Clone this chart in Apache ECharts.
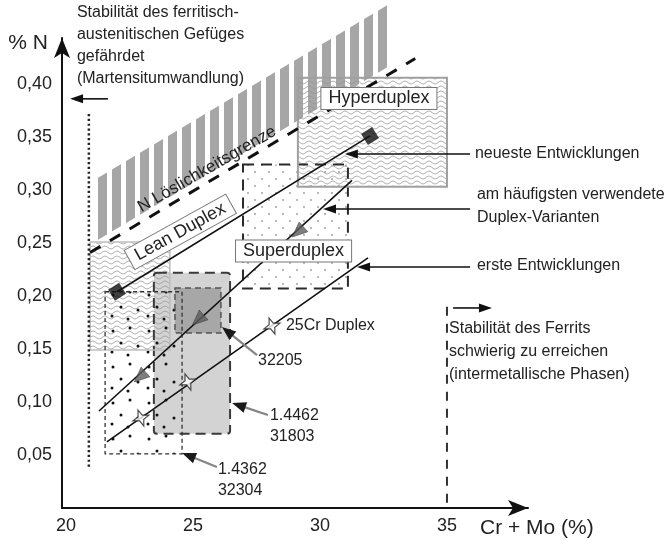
<!DOCTYPE html>
<html><head><meta charset="utf-8">
<script src="https://cdn.jsdelivr.net/npm/echarts@6/dist/echarts.min.js"></script>
<style>html,body{margin:0;padding:0;background:#fff}#c{width:672px;height:541px}</style>
</head><body><div id="c"></div>
<script>
// ---------- data (axis units: x = Cr + Mo %, y = % N) ----------
const xTicks = [20, 25, 30, 35];
const yTicks = [0.05, 0.10, 0.15, 0.20, 0.25, 0.30, 0.35, 0.40];

// N solubility limit (dashed line) start / end
const solubilityLine = [[20.95, 0.241], [33.75, 0.424]];
const hatchBandX = [21.1, 32.68];          // x-extent of hatched band
const hatchBandOffset = [0.0075, 0.066];    // band above the solubility line

// regions [xMin, xMax, yMin, yMax]
const region31803 = [23.46, 26.46, 0.070, 0.222];
const region32205 = [24.29, 26.10, 0.165, 0.2075];
const regionSuper = [26.97, 31.10, 0.207, 0.324];
const regionLean  = [20.95, 24.09, 0.149, 0.251];
const regionHyper = [29.13, 35.00, 0.303, 0.406];
const region32304 = [21.54, 24.57, 0.051, 0.204];

// development lines
const newestLine = [[22.01, 0.204], [31.97, 0.351]];
const commonLine = [[21.30, 0.0915], [31.26, 0.309]];
const firstLine  = [[21.61, 0.0623], [31.89, 0.236]];
const commonMarkers = [[22.91, 0.1236], [25.20, 0.1774], [29.13, 0.2604]];
const firstMarkers  = [[22.95, 0.0849], [24.80, 0.1189], [28.11, 0.1717]];

// stability limits
const martensiteLimit = [[20.9, 0.039], [20.9, 0.374]];
const ferriteLimit    = [[35.0, 0.005], [35.0, 0.193]];

// arrows [xFrom, yFrom, xTip, yTip]
const blackArrows = [
  [21.65, 0.386, 20.16, 0.386],
  [35.91, 0.334, 30.98, 0.334],
  [35.91, 0.2821, 30.12, 0.2821],
  [35.91, 0.2274, 31.46, 0.2274],
  [35.24, 0.1887, 36.77, 0.1887]
];
const grayArrows = [
  [27.52, 0.1443, 26.14, 0.1708],
  [27.95, 0.0877, 26.54, 0.0991],
  [25.94, 0.0387, 24.57, 0.0519]
];

// annotation texts and anchors
const noteTexts = [
  'Stabilität des ferritisch-\naustenitischen Gefüges\ngefährdet\n(Martensitumwandlung)',
  'neueste Entwicklungen',
  'am häufigsten verwendete\nDuplex-Varianten',
  'erste Entwicklungen',
  'Stabilität des Ferrits\nschwierig zu erreichen\n(intermetallische Phasen)',
  '25Cr Duplex',
  '32205',
  '1.4462\n31803',
  '1.4362\n32304'
];
const noteAnchors = [[20.43, 0.4772], [36.1, 0.334], [36.18, 0.3061], [36.18, 0.2283],
  [35.08, 0.1797], [28.66, 0.1717], [27.56, 0.1387], [28.03, 0.0967], [25.98, 0.0458]];
const noteVAlign = ['top', 'middle', 'top', 'middle', 'top', 'middle', 'middle', 'top', 'top'];
const noteLineHeight = [21.7, 20, 23, 20, 23, 20, 20, 21, 21];

const boxLabels = ['Hyperduplex', 'Superduplex', 'Lean Duplex', 'N Löslichkeitsgrenze'];
const boxAnchors = [[32.32, 0.3863], [28.96, 0.2425], [24.5, 0.2605], [25.55, 0.3195]];
const boxRotation = [0, 0, 29, 30];

// ---------- rendering ----------
const FONT = '"Liberation Sans", Arial, Helvetica, sans-serif';

function makePattern(w, h, draw) {
  const c = document.createElement('canvas');
  c.width = w; c.height = h;
  draw(c.getContext('2d'));
  return { image: c, repeat: 'repeat' };
}
const wavyPattern = makePattern(12, 5, g => {
  g.strokeStyle = '#969696'; g.lineWidth = 0.85; g.beginPath();
  for (let i = 0; i <= 24; i++) {
    const x = i / 2, y = 2.5 + 1.4 * Math.sin(x / 12 * 2 * Math.PI);
    i ? g.lineTo(x, y) : g.moveTo(x, y);
  }
  g.stroke();
});
const stripePattern = makePattern(14, 4, g => { g.fillStyle = '#a6a6a6'; g.fillRect(0, 0, 9, 4); });
const fineDotPattern = makePattern(14, 14, g => {
  g.fillStyle = '#999';
  [[3, 4], [10, 11]].forEach(p => { g.beginPath(); g.arc(p[0], p[1], 0.9, 0, 7); g.fill(); });
});
const blackDotPattern = makePattern(36, 36, g => {
  g.fillStyle = '#111';
  [[5, 7], [22, 4], [13, 19], [30, 22], [20, 31], [4, 28]].forEach(p => { g.beginPath(); g.arc(p[0], p[1], 1.5, 0, 7); g.fill(); });
});

const regions = [region31803, region32205, regionSuper, regionLean, regionHyper, region32304];
const regionFill = ['#d3d3d3', '#a7a7a7', fineDotPattern, wavyPattern, wavyPattern, blackDotPattern];
const regionStroke = [
  { stroke: '#3a3a3a', lineWidth: 2, lineDash: [10, 6] },
  { stroke: '#555', lineWidth: 1.5, lineDash: [6, 4] },
  { stroke: '#2a2a2a', lineWidth: 2, lineDash: [11, 7] },
  { stroke: '#bdbdbd', lineWidth: 1.5 },
  { stroke: '#a0a0a0', lineWidth: 2 },
  { stroke: '#333', lineWidth: 1.3, lineDash: [4, 3] }
];

function rectOf(api) {
  const p1 = api.coord([api.value(0), api.value(3)]);
  const p2 = api.coord([api.value(1), api.value(2)]);
  return { x: p1[0], y: p1[1], width: p2[0] - p1[0], height: p2[1] - p1[1] };
}
function lineY(x) {
  const [a, b] = solubilityLine;
  return a[1] + (b[1] - a[1]) * (x - a[0]) / (b[0] - a[0]);
}
function arrowRender(style) {
  return function (params, api) {
    const a = api.coord([api.value(0), api.value(1)]);
    const b = api.coord([api.value(2), api.value(3)]);
    const dx = b[0] - a[0], dy = b[1] - a[1], L = Math.hypot(dx, dy), ux = dx / L, uy = dy / L;
    const base = [b[0] - ux * style.head, b[1] - uy * style.head];
    return { type: 'group', children: [
      { type: 'line', shape: { x1: a[0], y1: a[1], x2: base[0] + ux, y2: base[1] + uy }, style: { stroke: style.color, lineWidth: style.width } },
      { type: 'polygon', shape: { points: [b, [base[0] - uy * style.hw, base[1] + ux * style.hw], [base[0] + uy * style.hw, base[1] - ux * style.hw]] }, style: { fill: style.headColor } }
    ] };
  };
}

const chart = echarts.init(document.getElementById('c'), null, { renderer: 'canvas' });
chart.setOption({
  animation: false,
  backgroundColor: '#fff',
  grid: { left: 62, right: 144, top: 38, bottom: 33, containLabel: false, outerBoundsMode: 'none' },
  xAxis: {
    type: 'value', min: 19.843, max: 38.19,
    splitLine: { show: false }, axisTick: { show: false },
    axisLine: { show: true, onZero: false, lineStyle: { color: '#111', width: 2 }, symbol: ['none', 'arrow'], symbolSize: [12, 20] },
    axisLabel: { customValues: xTicks, fontSize: 18, color: '#222', margin: 9, fontFamily: FONT },
    name: 'Cr + Mo (%)', nameLocation: 'end', nameGap: -48,
    nameTextStyle: { fontSize: 21, color: '#222', fontFamily: FONT, align: 'left', verticalAlign: 'top', padding: [10, 0, 0, 0] }
  },
  yAxis: {
    type: 'value', min: 0, max: 0.4434,
    splitLine: { show: false }, axisTick: { show: false },
    axisLine: { show: true, onZero: false, lineStyle: { color: '#111', width: 2 }, symbol: ['none', 'arrow'], symbolSize: [12, 20] },
    axisLabel: { customValues: yTicks, fontSize: 18, color: '#222', margin: 10, fontFamily: FONT,
      formatter: v => v.toFixed(2).replace('.', ',') },
    name: '% N', nameLocation: 'end', nameGap: -5,
    nameTextStyle: { fontSize: 21, color: '#222', fontFamily: FONT, align: 'right', verticalAlign: 'middle', padding: [0, 14, 0, 0] }
  },
  series: [
    { // hatched band above the solubility limit
      type: 'custom', z: 1, silent: true, clip: false,
      data: [[hatchBandX[0], hatchBandX[1]]],
      renderItem(params, api) {
        const x0 = api.value(0), x1 = api.value(1);
        const pts = [[x0, lineY(x0) + hatchBandOffset[0]], [x1, lineY(x1) + hatchBandOffset[0]],
                     [x1, lineY(x1) + hatchBandOffset[1]], [x0, lineY(x0) + hatchBandOffset[1]]].map(p => api.coord(p));
        return { type: 'polygon', shape: { points: pts }, style: { fill: stripePattern } };
      }
    },
    { // region fills
      type: 'custom', z: 2, silent: true, clip: false,
      data: regions,
      renderItem(params, api) {
        return { type: 'rect', shape: rectOf(api), style: { fill: regionFill[params.dataIndex] } };
      }
    },
    { // region borders
      type: 'custom', z: 3, silent: true, clip: false,
      data: regions,
      renderItem(params, api) {
        const s = regionStroke[params.dataIndex];
        return { type: 'rect', shape: Object.assign(rectOf(api), { r: params.dataIndex === 0 ? 3 : 0 }),
          style: Object.assign({ fill: null }, s) };
      }
    },
    { type: 'line', z: 4, data: solubilityLine, symbol: 'none', silent: true,
      lineStyle: { color: '#111', width: 3, type: [12, 11] } },
    { type: 'line', z: 4, data: martensiteLimit, symbol: 'none', silent: true,
      lineStyle: { color: '#222', width: 2.5, type: [2.2, 2.6] } },
    { type: 'line', z: 4, data: ferriteLimit, symbol: 'none', silent: true,
      lineStyle: { color: '#333', width: 2, type: [9, 8] } },
    { type: 'line', z: 5, data: newestLine, symbol: 'none', silent: true, lineStyle: { color: '#111', width: 1.6 } },
    { type: 'line', z: 5, data: commonLine, symbol: 'none', silent: true, lineStyle: { color: '#111', width: 1.6 } },
    { type: 'line', z: 5, data: firstLine, symbol: 'none', silent: true, lineStyle: { color: '#111', width: 1.6 } },
    { type: 'scatter', z: 6, data: newestLine, symbol: 'rect', symbolSize: 13, symbolRotate: 32, silent: true,
      itemStyle: { color: '#111' } },
    { type: 'scatter', z: 6, data: commonMarkers, symbol: 'triangle', symbolSize: [13, 15], symbolRotate: 132, silent: true,
      itemStyle: { color: '#5c5c5c', borderColor: '#333', borderWidth: 0.6 } },
    { type: 'scatter', z: 6, data: firstMarkers, silent: true,
      symbol: 'path://M0,-10L2.6,-2.6L10,0L2.6,2.6L0,10L-2.6,2.6L-10,0L-2.6,-2.6Z', symbolSize: 17, symbolRotate: 20,
      itemStyle: { color: '#fff', borderColor: '#222', borderWidth: 1.2 } },
    { type: 'custom', z: 7, silent: true, clip: false, data: blackArrows,
      renderItem: arrowRender({ color: '#111', width: 1.6, head: 13, hw: 4.5, headColor: '#111' }) },
    { type: 'custom', z: 7, silent: true, clip: false, data: grayArrows,
      renderItem: arrowRender({ color: '#858585', width: 2.2, head: 14, hw: 5.5, headColor: '#1a1a1a' }) },
    { // annotation texts
      type: 'custom', z: 8, silent: true, clip: false, data: noteAnchors,
      renderItem(params, api) {
        const i = params.dataIndex, p = api.coord([api.value(0), api.value(1)]);
        return { type: 'text', x: p[0], y: p[1], style: {
          text: noteTexts[i], fontSize: 16, fontFamily: FONT, fill: '#222',
          align: 'left', verticalAlign: noteVAlign[i], lineHeight: noteLineHeight[i] } };
      }
    },
    { // boxed / rotated labels
      type: 'custom', z: 8, silent: true, clip: false, data: boxAnchors,
      renderItem(params, api) {
        const i = params.dataIndex, p = api.coord([api.value(0), api.value(1)]);
        const boxed = i < 3;
        return { type: 'text', x: p[0], y: p[1], rotation: boxRotation[i] * Math.PI / 180, style: Object.assign({
          text: boxLabels[i], fontSize: boxed ? 18 : 17, fontFamily: FONT, fill: '#222',
          align: 'center', verticalAlign: 'middle' },
          boxed ? { backgroundColor: '#fff', borderColor: '#777', borderWidth: 1, padding: [2, 7, 1, 7] } : {}) };
      }
    }
  ]
});
</script>
</body></html>
